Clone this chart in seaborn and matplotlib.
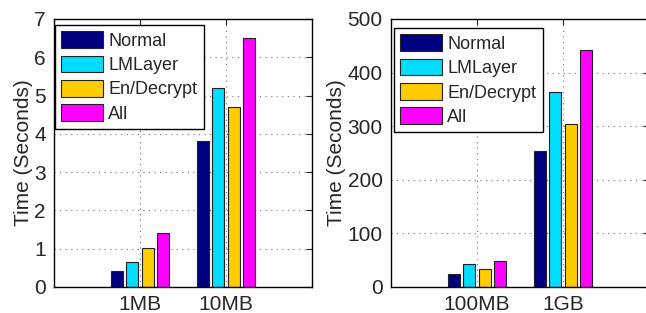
import pandas as pd
import matplotlib
matplotlib.use("Agg")
import matplotlib.pyplot as plt
import seaborn as sns

# data
methods = ["Normal", "LMLayer", "En/Decrypt", "All"]
colors = ["#000080", "#00DDFF", "#FFCC00", "#FF00FF"]

small_sizes = ["1MB", "10MB"]
small_normal = [0.42, 3.81]
small_lmlayer = [0.66, 5.21]
small_endecrypt = [1.02, 4.71]
small_all = [1.41, 6.50]

large_sizes = ["100MB", "1GB"]
large_normal = [24, 254]
large_lmlayer = [43, 363]
large_endecrypt = [33, 304]
large_all = [48, 442]


def to_long(sizes, series):
    rows = []
    for m, vals in zip(methods, series):
        for s, v in zip(sizes, vals):
            rows.append({"size": s, "method": m, "time": v})
    return pd.DataFrame(rows)


df_small = to_long(small_sizes, [small_normal, small_lmlayer, small_endecrypt, small_all])
df_large = to_long(large_sizes, [large_normal, large_lmlayer, large_endecrypt, large_all])

sns.set_style("white")
plt.rcParams['font.family'] = ['Liberation Sans', 'DejaVu Sans']

fig = plt.figure(figsize=(6.46, 3.13), dpi=100)
ax1 = fig.add_axes([54 / 646, 26 / 313, 258 / 646, 268 / 313])
ax2 = fig.add_axes([391 / 646, 26 / 313, 258 / 646, 268 / 313])


def draw(ax, df, sizes, ymax, yticks, anchor):
    sns.barplot(data=df, x="size", y="time", hue="method", order=sizes,
                hue_order=methods, palette=colors, width=0.72, gap=0.2,
                edgecolor="#222222", linewidth=0.8, ax=ax, errorbar=None,
                saturation=1)
    ax.set_xlim(-1, 2)
    ax.set_ylim(0, ymax)
    ax.set_yticks(yticks)
    ax.set_xlabel("")
    ax.set_ylabel("Time (Seconds)", fontsize=15, labelpad=1)
    ax.tick_params(labelsize=15, direction="in", top=True, right=True,
                   length=4, width=0.8, pad=6)
    ax.grid(True, linestyle=(0, (1, 4)), color="#777777", linewidth=0.8)
    ax.set_axisbelow(True)
    for sp in ax.spines.values():
        sp.set_color("black")
        sp.set_linewidth(1.0)
    ax.legend(loc="upper left", bbox_to_anchor=anchor, borderaxespad=0,
              fontsize=13, handlelength=2.3, handleheight=1.05,
              labelspacing=0.32, handletextpad=0.3, borderpad=0.35,
              fancybox=False, framealpha=1, edgecolor="black")
    ax.get_legend().get_frame().set_linewidth(1.0)


draw(ax1, df_small, small_sizes, 7, range(0, 8), (0.004, 0.978))
draw(ax2, df_large, large_sizes, 500, range(0, 501, 100), (0.012, 0.966))

fig.savefig("out.png", dpi=100)
